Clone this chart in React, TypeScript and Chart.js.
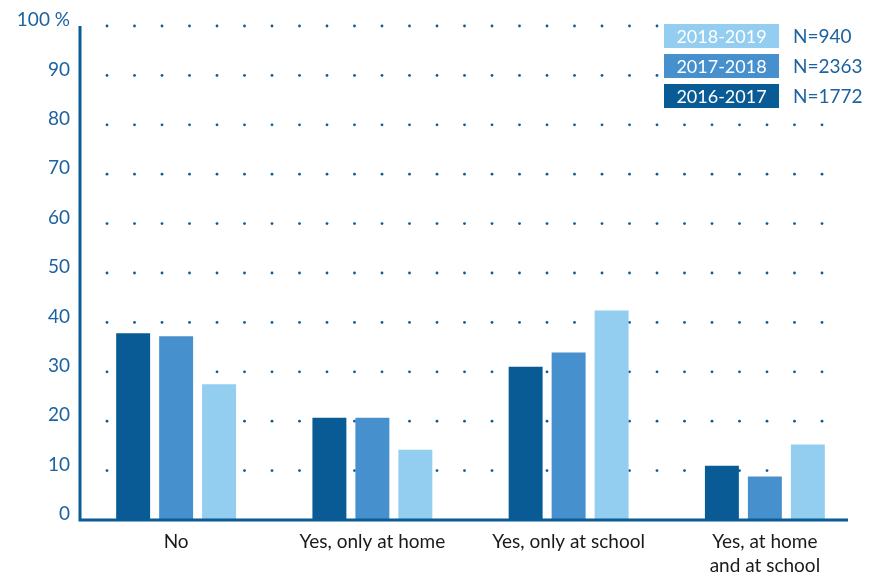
import React, { useEffect, useRef } from "react";
import { Chart, registerables } from "chart.js";

Chart.register(...registerables);

const categories: (string | string[])[] = [
  "No",
  "Yes, only at home",
  "Yes, only at school",
  ["Yes, at home", "and at school"],
];
const seriesLabels = ["2016-2017", "2017-2018", "2018-2019"];
const sampleSizes = ["N=1772", "N=2363", "N=940"];
const values2016 = [37.8, 20.7, 31.0, 11.0];
const values2017 = [37.2, 20.7, 33.9, 8.8];
const values2018 = [27.5, 14.2, 42.4, 15.3];
const yTicks = [0, 10, 20, 30, 40, 50, 60, 70, 80, 90, 100];

const colors = ["#095b96", "#4690ce", "#93cdf0"];
const axisColor = "#0b5c96";
const tickColor = "#1d62a0";
const FONT = "Lato, 'Open Sans', sans-serif";

const decorPlugin = {
  id: "decor",
  beforeDatasetsDraw(chart: any) {
    const { ctx, scales } = chart;
    const y = scales.y;
    ctx.save();
    ctx.fillStyle = axisColor;
    for (const v of yTicks) {
      if (v === 0) continue;
      const py = y.getPixelForValue(v);
      for (let px = 107; px <= 823; px += 27.5) {
        ctx.beginPath();
        ctx.arc(px, py, 1.4, 0, Math.PI * 2);
        ctx.fill();
      }
    }
    // white legend background hides dots
    ctx.fillStyle = "#ffffff";
    ctx.fillRect(660, 15, 221, 100);
    ctx.restore();
  },
  afterDatasetsDraw(chart: any) {
    const { ctx, scales } = chart;
    const y = scales.y;
    const y0 = y.getPixelForValue(0);
    const y100 = y.getPixelForValue(100);
    ctx.save();
    ctx.strokeStyle = axisColor;
    ctx.lineWidth = 3;
    ctx.beginPath();
    ctx.moveTo(80, y100);
    ctx.lineTo(80, y0 + 1.5);
    ctx.moveTo(78.5, y0);
    ctx.lineTo(848, y0);
    ctx.stroke();

    // legend
    const order = [2, 1, 0];
    order.forEach((di, row) => {
      const top = 24 + row * 30;
      ctx.fillStyle = colors[di];
      ctx.fillRect(664, top, 115, 24);
      ctx.fillStyle = "#ffffff";
      ctx.font = `18px ${FONT}`;
      ctx.textAlign = "center";
      ctx.textBaseline = "middle";
      ctx.fillText(chart.data.datasets[di].label, 721.5, top + 13);
      ctx.fillStyle = tickColor;
      ctx.textAlign = "left";
      ctx.font = `19px ${FONT}`;
      ctx.fillText(sampleSizes[di], 793, top + 13);
    });
    ctx.restore();
  },
};

export default function App() {
  const ref = useRef<HTMLCanvasElement>(null);
  useEffect(() => {
    if (!ref.current) return;
    const data = [values2016, values2017, values2018];
    const chart = new Chart(ref.current, {
      type: "bar",
      data: {
        labels: categories as any,
        datasets: seriesLabels.map((l, i) => ({
          label: l,
          data: data[i],
          backgroundColor: colors[i],
          categoryPercentage: 0.657,
          barPercentage: 0.79,
        })),
      },
      options: {
        animation: false,
        responsive: false,
        layout: { padding: { top: 26, right: 18, left: 0, bottom: 0 } },
        plugins: { legend: { display: false }, tooltip: { enabled: false } },
        scales: {
          x: {
            grid: { display: false, drawTicks: false },
            border: { display: false },
            ticks: {
              color: "#1a1a1a",
              font: { family: FONT, size: 19, lineHeight: 1.25 },
              padding: 10,
              maxRotation: 0,
            },
            afterFit: (s: any) => {
              s.height = 54;
            },
          },
          y: {
            min: 0,
            max: 100,
            grid: { display: false, drawTicks: false },
            border: { display: false },
            afterBuildTicks: (s: any) => {
              s.ticks = yTicks.map((v) => ({ value: v }));
            },
            ticks: {
              color: tickColor,
              font: { family: FONT, size: 19 },
              padding: 8,
              labelOffset: -6,
              callback: (v: any) => (v === 100 ? "100 %" : String(v)),
            },
            afterFit: (s: any) => {
              s.width = 78;
            },
          },
        },
      },
      plugins: [decorPlugin],
    });
    return () => chart.destroy();
  }, []);
  return (
    <div style={{ position: "fixed", left: 0, top: 0, width: 881, height: 574, background: "#fff" }}>
      <canvas ref={ref} width={881} height={574} style={{ width: 881, height: 574 }} />
    </div>
  );
}
